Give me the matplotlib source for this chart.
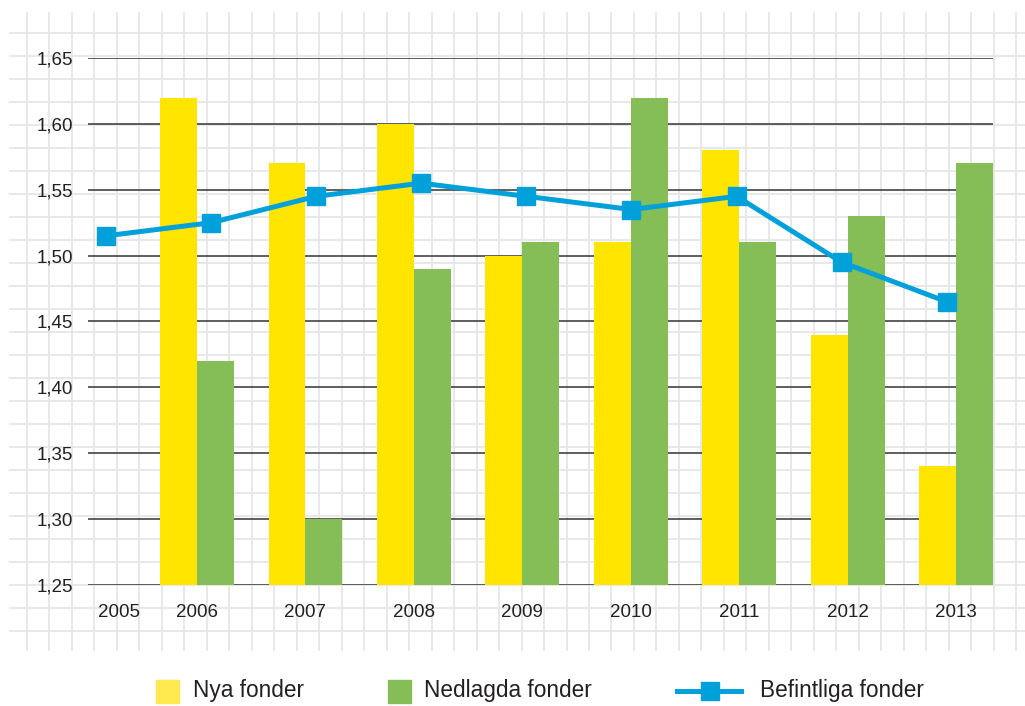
import numpy as np
import matplotlib
matplotlib.use("Agg")
import matplotlib.pyplot as plt
from matplotlib.patches import Rectangle
from matplotlib.lines import Line2D

plt.rcParams['font.family'] = ['Liberation Sans', 'DejaVu Sans']

# data
years = ['2006', '2007', '2008', '2009', '2010', '2011', '2012', '2013']
nya = [1.62, 1.57, 1.60, 1.50, 1.51, 1.58, 1.44, 1.34]
nedlagda = [1.42, 1.30, 1.49, 1.51, 1.62, 1.51, 1.53, 1.57]
line_years = ['2005', '2006', '2007', '2008', '2009', '2010', '2011', '2012', '2013']
befintliga = [1.515, 1.525, 1.545, 1.555, 1.545, 1.535, 1.545, 1.495, 1.465]
yticks = [1.25, 1.30, 1.35, 1.40, 1.45, 1.50, 1.55, 1.60, 1.65]
legend_labels = ['Nya fonder', 'Nedlagda fonder', 'Befintliga fonder']

YELLOW = '#FFE500'
GREEN = '#85BE57'
BLUE = '#00A0DA'
TXT = '#231f20'

W, H = 1025, 706
fig = plt.figure(figsize=(W / 100, H / 100), dpi=100)

# graph-paper background, in pixel units
bg = fig.add_axes([0, 0, 1, 1], zorder=-5)
bg.set_xlim(0, W)
bg.set_ylim(H, 0)
bg.axis('off')
for k in range(45):
    x = 27 + k * 22.48
    bg.plot([x, x], [13, 650], color='#e6e6e6', lw=1.3, zorder=0)
for k in range(27):
    y = 33 + k * 23.0
    bg.plot([10, W], [y, y], color='#e6e6e6', lw=1.3, zorder=0)

# main axes (bars)
left, right = 88 / W, 993 / W
bottom, top = (H - 585) / H, (H - 58) / H
ax = fig.add_axes([left, bottom, right - left, top - bottom])
ax.set_facecolor('none')
bw = 0.34
idx = np.arange(1, len(years) + 1)
ax.bar(idx - bw / 2, nya, bw, color=YELLOW, zorder=2)
ax.bar(idx + bw / 2, nedlagda, bw, color=GREEN, zorder=2)
ax.set_xlim(-0.005, 8 + bw)
ax.set_ylim(1.25, 1.65)
ax.set_yticks(yticks)
ax.set_yticklabels([f'{v:.2f}'.replace('.', ',') for v in yticks])
ax.set_xticks([0.28] + list(idx))
ax.set_xticklabels(['2005'] + years)
ax.yaxis.grid(True, color='#333333', lw=1.1)
ax.set_axisbelow(True)
for s in ax.spines.values():
    s.set_visible(False)
ax.tick_params(axis='both', length=0, labelsize=13.5, colors=TXT)
ax.tick_params(axis='x', pad=14)
ax.tick_params(axis='y', pad=10.5)

# line on its own x scale
ax2 = ax.twiny()
ax2.set_facecolor('none')
xi = np.arange(len(line_years))
ax2.plot(xi, befintliga, color=BLUE, lw=3.6, marker='s', markersize=13.5,
         solid_joinstyle='miter', zorder=5)
ax2.set_xlim(-0.171, 8.44)
ax2.set_xticks([])
for s in ax2.spines.values():
    s.set_visible(False)

# legend
ly = 691
fs = 16.3
bg.add_patch(Rectangle((156, ly - 11.5), 23, 23, color='#FFE94F'))
bg.text(193, ly, legend_labels[0], fontsize=fs, color=TXT, va='center', ha='left')
bg.add_patch(Rectangle((388, ly - 11.5), 23, 23, color=GREEN))
bg.text(424, ly, legend_labels[1], fontsize=fs, color=TXT, va='center', ha='left')
bg.add_line(Line2D([677, 741], [ly, ly], color=BLUE, lw=3.6))
bg.add_line(Line2D([709.5], [ly], color=BLUE, marker='s', markersize=13.5))
bg.text(760, ly, legend_labels[2], fontsize=fs, color=TXT, va='center', ha='left')

fig.savefig('out.png', dpi=100)
